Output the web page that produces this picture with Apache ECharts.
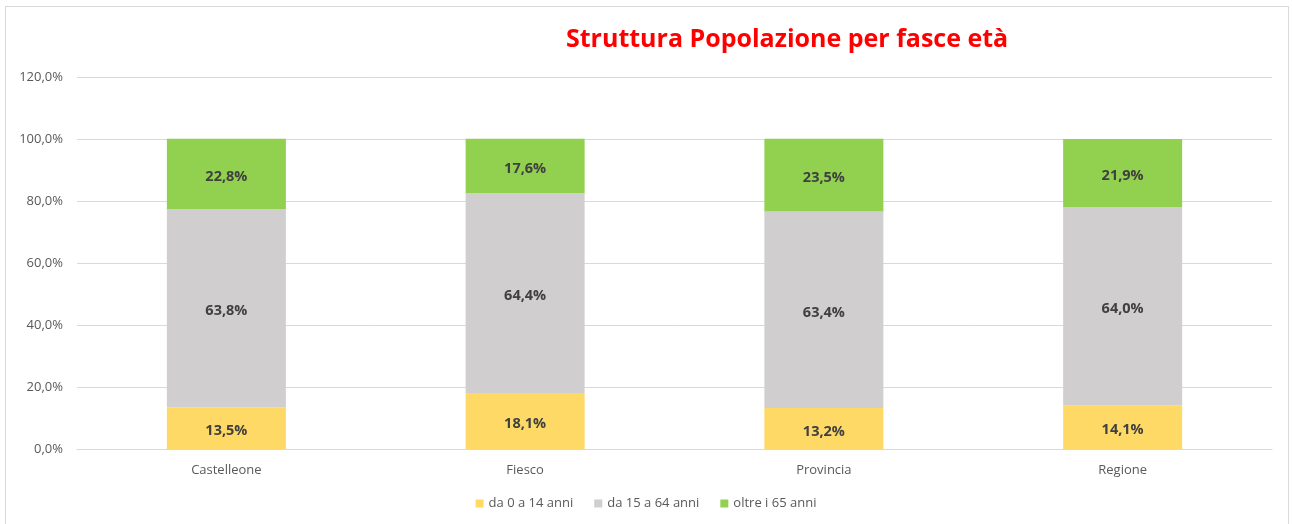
<!DOCTYPE html>
<html>
<head>
<meta charset="utf-8">
<script src="https://cdn.jsdelivr.net/npm/echarts@6/dist/echarts.min.js"></script>
<style>
html,body{margin:0;padding:0;background:#fff;}
#frame{position:absolute;left:5px;top:6px;width:1284px;height:520px;border:1px solid #d9d9d9;box-sizing:border-box;}
#chart{position:absolute;left:0;top:0;width:1292px;height:524px;}
</style>
</head>
<body>
<div id="frame"></div>
<div id="chart"></div>
<script>
const categories = ['Castelleone', 'Fiesco', 'Provincia', 'Regione'];
const seriesNames = ['da 0 a 14 anni', 'da 15 a 64 anni', 'oltre i 65 anni'];
const young = [13.5, 18.1, 13.2, 14.1];
const adult = [63.8, 64.4, 63.4, 64.0];
const old = [22.8, 17.6, 23.5, 21.9];
const colors = ['#FFD966', '#D0CECE', '#92D050'];
const fmt = v => v.toFixed(1).replace('.', ',') + '%';
const font = 'Open Sans';
const chart = echarts.init(document.getElementById('chart'));
const mk = (name, data, color) => ({
  name, type: 'bar', stack: 'total', data, barWidth: 119,
  itemStyle: { color },
  label: { show: true, position: 'inside', offset: [0, 3], formatter: p => fmt(p.value), color: '#404040', fontWeight: 'bold', fontSize: 14.5, fontFamily: font }
});
chart.setOption({
  animation: false,
  title: { text: 'Struttura Popolazione per fasce età', left: 561, top: 22, textStyle: { color: '#FF0000', fontSize: 25, fontWeight: 'bold', fontFamily: font } },
  grid: { left: 77, right: 20, top: 77, bottom: 75 },
  legend: {
    bottom: 9, left: 'center', itemWidth: 8, itemHeight: 8, itemGap: 21,
    icon: 'rect', textStyle: { color: '#595959', fontSize: 13, fontFamily: font },
    data: seriesNames
  },
  xAxis: {
    type: 'category', data: categories,
    axisLine: { lineStyle: { color: '#d9d9d9' } }, axisTick: { show: false },
    axisLabel: { color: '#595959', fontSize: 13, fontFamily: font, margin: 15 }
  },
  yAxis: {
    type: 'value', min: 0, max: 120, interval: 20,
    axisLabel: { formatter: v => v.toFixed(1).replace('.', ',') + '%', color: '#595959', fontSize: 13, fontFamily: font, margin: 14 },
    splitLine: { lineStyle: { color: '#d9d9d9' } }, axisLine: { show: false }, axisTick: { show: false }
  },
  series: [mk(seriesNames[0], young, colors[0]), mk(seriesNames[1], adult, colors[1]), mk(seriesNames[2], old, colors[2])]
});
</script>
</body>
</html>
